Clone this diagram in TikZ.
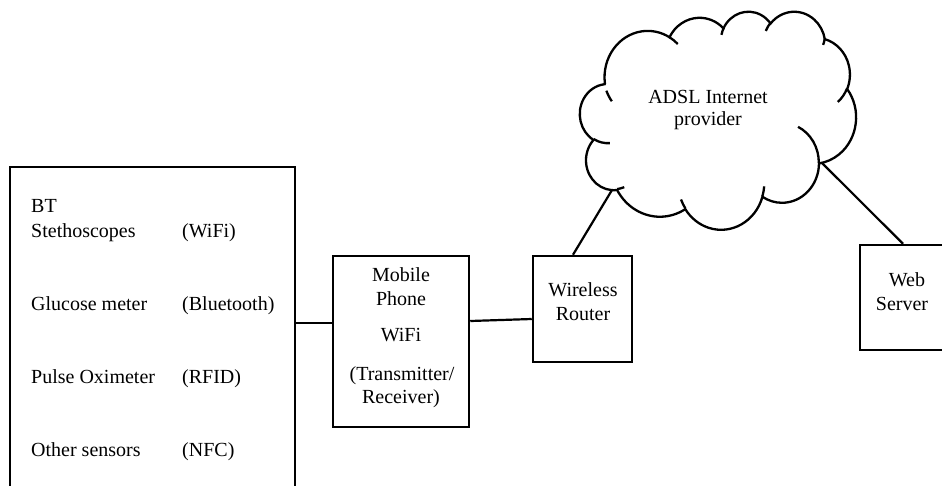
\documentclass[tikz,border=0pt]{standalone}
\usepackage{fontspec}
\setmainfont{Liberation Serif}
\begin{document}
\begin{tikzpicture}[x=1pt,y=-1pt,
  box/.style={draw, line width=2.5pt, inner sep=0pt},
  wire/.style={line width=2.2pt},
  cloudline/.style={line width=2.3pt},
  lbl/.style={font=\fontsize{20}{24}\selectfont, inner sep=0pt},
  declare function={cv(\t,\k)=\t+atan2(\k*sin(\t),cos(\t))-atan2(sin(\t),cos(\t));}]
\useasboundingbox (0,0) rectangle (942,485);
\clip (0,0) rectangle (942,485);
% boxes
\node[box, minimum width=285pt, minimum height=325pt] (sens) at (152.5,329.5) {};
\node[box, minimum width=136pt, minimum height=171pt] (mob) at (401,341.5) {};
\node[box, minimum width=99pt, minimum height=106pt] (rtr) at (582.5,309) {};
\node[box, minimum width=86pt, minimum height=105pt] (web) at (903,297.5) {};
% sensor texts
\node[lbl, anchor=base west] (s1) at (31,212.7) {BT};
\node[lbl, anchor=base west] (s2) at (31,237) {Stethoscopes};
\node[lbl, anchor=base west] (p1) at (182,237) {(WiFi)};
\node[lbl, anchor=base west] (s3) at (31,310.7) {Glucose meter};
\node[lbl, anchor=base west] (p2) at (182,310.7) {(Bluetooth)};
\node[lbl, anchor=base west] (s4) at (31,383) {Pulse Oximeter};
\node[lbl, anchor=base west] (p3) at (182,383) {(RFID)};
\node[lbl, anchor=base west] (s5) at (31,456.7) {Other sensors};
\node[lbl, anchor=base west] (p4) at (182,456.7) {(NFC)};
% mobile texts
\node[lbl, anchor=base] (m1) at (401,281.7) {Mobile};
\node[lbl, anchor=base] (m2) at (401,305) {Phone};
\node[lbl, anchor=base] (m3) at (401,341.7) {WiFi};
\node[lbl, anchor=base] (m4) at (402,380) {(Transmitter/};
\node[lbl, anchor=base] (m5) at (401,403.3) {Receiver)};
% router / web texts
\node[lbl, anchor=base] (r1) at (583,296.7) {Wireless};
\node[lbl, anchor=base] (r2) at (583,320.7) {Router};
\node[lbl, anchor=base] (w1) at (907,286) {Web};
\node[lbl, anchor=base] (w2) at (902,310) {Server};
% cloud
\begin{scope}[shift={(580,11)}, xscale=276/43.2, yscale=218/43.2]
\draw[cloudline] (3.900,14.370)
 arc[start angle={cv(-190.48748,0.73482)}, end angle={cv(-66.70695,0.73482)}, x radius=6.753, y radius=9.190]
 arc[start angle={cv(-144.10238,0.73387)}, end angle={cv(-54.15715,0.73387)}, x radius=5.333, y radius=7.267]
 arc[start angle={cv(-145.80792,0.73423)}, end angle={cv(-46.0849,0.73423)}, x radius=4.365, y radius=5.945]
 arc[start angle={cv(-130.98607,0.73647)}, end angle={cv(-13.74434,0.73647)}, x radius=4.857, y radius=6.595]
 arc[start angle={cv(-78.70888,0.73326)}, end angle={cv(30.31804,0.73326)}, x radius=5.333, y radius=7.273]
 arc[start angle={cv(-46.26725,0.73482)}, end angle={cv(84.00175,0.73482)}, x radius=6.775, y radius=9.220]
 arc[start angle={cv(0.62502,0.73535)}, end angle={cv(114.65835,0.73535)}, x radius=5.785, y radius=7.867]
 arc[start angle={cv(22.4516,0.73272)}, end angle={cv(137.62415,0.73272)}, x radius=6.752, y radius=9.215]
 arc[start angle={cv(66.24263,0.73224)}, end angle={cv(141.95365,0.73224)}, x radius=7.720, y radius=10.543]
 arc[start angle={cv(-274.94208,0.73673)}, end angle={cv(-128.20651,0.73673)}, x radius=4.360, y radius=5.918]
 arc[start angle={cv(-246.8285,0.73087)}, end angle={cv(-94.30965,0.73087)}, x radius=4.345, y radius=5.945]
 -- cycle;
\draw[cloudline]
 (4.693,26.177) arc[start angle={cv(86.742,0.73087)}, end angle={cv(113.1715,0.73087)}, x radius=4.345, y radius=5.945]
 (6.928,34.899) arc[start angle={cv(73.61047,0.73673)}, end angle={cv(85.05793,0.73673)}, x radius=4.360, y radius=5.918]
 (16.478,39.090) arc[start angle={cv(137.62415,0.73272)}, end angle={cv(151.70525,0.73272)}, x radius=6.752, y radius=9.215]
 (28.827,34.751) arc[start angle={cv(6.45327,0.73272)}, end angle={cv(22.45162,0.73272)}, x radius=6.752, y radius=9.215]
 (34.129,22.954) arc[start angle={cv(-70.29235,0.73535)}, end angle={cv(0.62502,0.73535)}, x radius=5.785, y radius=7.867]
 (41.798,15.354) arc[start angle={cv(30.31803,0.73326)}, end angle={cv(58.06953,0.73326)}, x radius=5.333, y radius=7.273]
 (38.324,5.426) arc[start angle={cv(13.74433,0.73647)}, end angle={cv(28.60323,0.73647)}, x radius=4.857, y radius=6.595]
 (29.078,3.952) arc[start angle={cv(-149.18145,0.73647)}, end angle={cv(-130.98608,0.73647)}, x radius=4.857, y radius=6.595]
 (22.141,4.720) arc[start angle={cv(-163.49427,0.73423)}, end angle={cv(-145.80792,0.73423)}, x radius=4.365, y radius=5.945]
 (14.000,5.192) arc[start angle={cv(-66.70695,0.73482)}, end angle={cv(-54.3876,0.73482)}, x radius=6.753, y radius=9.190]
 (4.127,15.789) arc[start angle={cv(151.84518,0.73482)}, end angle={cv(134.84855,0.73482)}, x radius=6.753, y radius=9.190];
\end{scope}
\node[lbl, anchor=base] (c1) at (708,103.3) {ADSL Internet};
\node[lbl, anchor=base] (c2) at (708,125) {provider};
\coordinate (cl1) at (612,190);
\coordinate (cl2) at (822,163);
% connectors
\draw[wire] (sens.east |- 0,323) -- (mob.west |- 0,323);
\draw[wire] (mob.east |- 0,321) -- (rtr.west |- 0,319);
\draw[wire] (rtr.north -| 573,0) -- (cl1);
\draw[wire] (cl2) -- (web.north);
\end{tikzpicture}
\end{document}
